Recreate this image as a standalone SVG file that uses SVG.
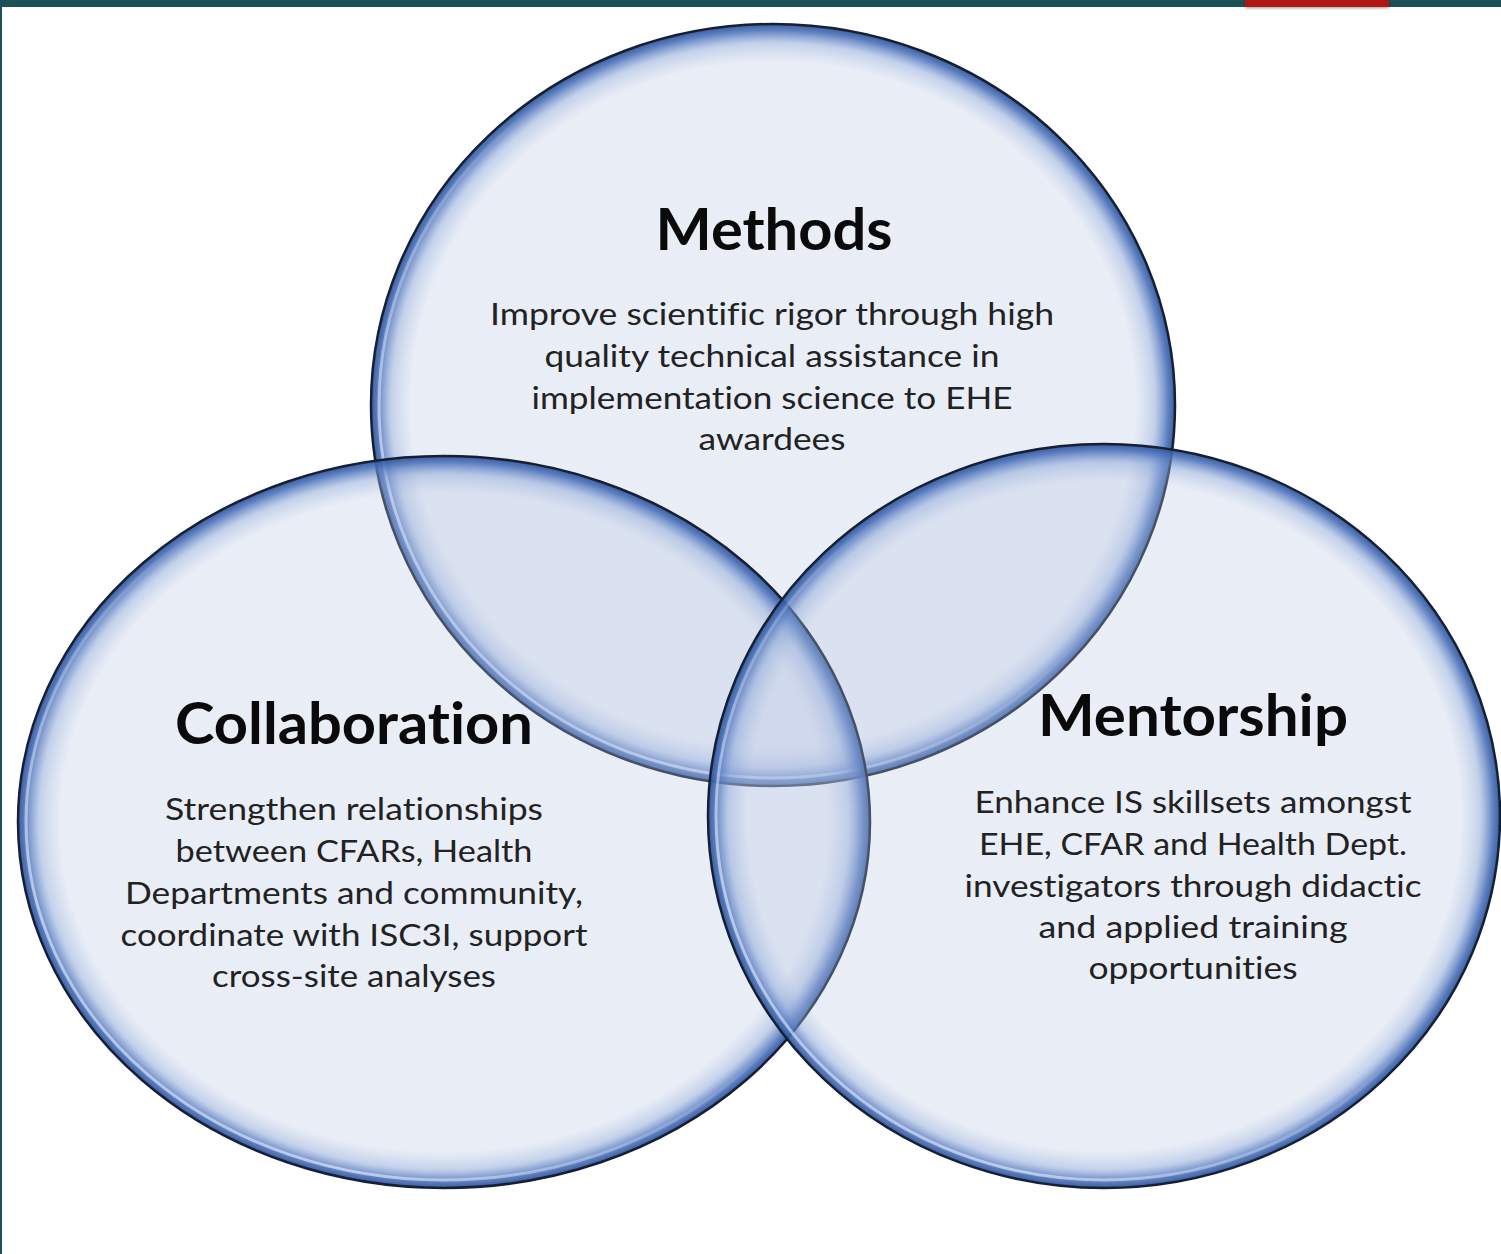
<svg xmlns="http://www.w3.org/2000/svg" width="1501" height="1254" viewBox="0 0 1501 1254">
  <defs>
    <radialGradient id="bubble" cx="50%" cy="50%" r="50%">
      <stop offset="0" stop-color="#b6c4e2" stop-opacity="0.3"/>
      <stop offset="0.9" stop-color="#b6c4e2" stop-opacity="0.3"/>
      <stop offset="0.95" stop-color="#86a2d6" stop-opacity="0.5"/>
      <stop offset="0.983" stop-color="#4a70ba" stop-opacity="0.88"/>
      <stop offset="1" stop-color="#2f5597" stop-opacity="0.95"/>
    </radialGradient>
    <linearGradient id="shine" x1="1" y1="0" x2="0" y2="1">
      <stop offset="0" stop-color="#ffffff" stop-opacity="0"/>
      <stop offset="0.45" stop-color="#ffffff" stop-opacity="0"/>
      <stop offset="0.8" stop-color="#eef4ff" stop-opacity="0.6"/>
      <stop offset="1" stop-color="#eef4ff" stop-opacity="0.45"/>
    </linearGradient>
    <filter id="sh" x="-10%" y="-50%" width="120%" height="250%">
      <feDropShadow dx="0" dy="1" stdDeviation="1.5" flood-color="#000" flood-opacity="0.4"/>
    </filter>
  </defs>
  <style>
    .bub { fill: url(#bubble); stroke: #161f33; stroke-width: 2.5; }
    .shine { fill: none; stroke: url(#shine); stroke-width: 3; }
    .title { font-family: "Lato", "Open Sans", "Liberation Sans", sans-serif; font-weight: 700; font-size: 58px; fill: #0a0a0a; text-anchor: middle; font-variant-ligatures: none; font-feature-settings: "liga" 0; }
    .body { font-family: "Lato", "Open Sans", "Liberation Sans", sans-serif; font-weight: 400; font-size: 30px; fill: #222222; text-anchor: middle; font-variant-ligatures: none; font-feature-settings: "liga" 0; }
  </style>

  <rect x="0" y="0" width="1501" height="1254" fill="#ffffff"/>
  <rect x="0" y="0" width="1501" height="7" fill="#1e5058"/>
  <rect x="0" y="0" width="2" height="1254" fill="#1e5058"/>
  <rect x="1245" y="0" width="144" height="7" fill="#b11616" filter="url(#sh)"/>

  <g id="methods">
    <ellipse class="bub" cx="773" cy="405" rx="402" ry="381"/>
    <ellipse class="shine" cx="773" cy="405" rx="394" ry="373"/>
  </g>
  <g id="collaboration">
    <ellipse class="bub" cx="444" cy="822" rx="426" ry="366"/>
    <ellipse class="shine" cx="444" cy="822" rx="418" ry="358"/>
  </g>
  <g id="mentorship">
    <ellipse class="bub" cx="1104" cy="816" rx="396" ry="372"/>
    <ellipse class="shine" cx="1104" cy="816" rx="388" ry="364"/>
  </g>

  <g id="methods-text">
    <text class="title" x="774" y="250" textLength="237" lengthAdjust="spacingAndGlyphs">Methods</text>
    <text class="body" x="772" y="325" textLength="564" lengthAdjust="spacingAndGlyphs">Improve scientific rigor through high</text>
    <text class="body" x="772" y="367" textLength="455" lengthAdjust="spacingAndGlyphs">quality technical assistance in</text>
    <text class="body" x="772" y="409" textLength="481" lengthAdjust="spacingAndGlyphs">implementation science to EHE</text>
    <text class="body" x="772" y="450" textLength="147" lengthAdjust="spacingAndGlyphs">awardees</text>
  </g>
  <g id="collaboration-text">
    <text class="title" x="354" y="744" textLength="358" lengthAdjust="spacingAndGlyphs">Collaboration</text>
    <text class="body" x="354" y="820" textLength="378" lengthAdjust="spacingAndGlyphs">Strengthen relationships</text>
    <text class="body" x="354" y="862" textLength="357" lengthAdjust="spacingAndGlyphs">between CFARs, Health</text>
    <text class="body" x="354" y="904" textLength="458" lengthAdjust="spacingAndGlyphs">Departments and community,</text>
    <text class="body" x="354" y="946" textLength="467" lengthAdjust="spacingAndGlyphs">coordinate with ISC3I, support</text>
    <text class="body" x="354" y="987" textLength="284" lengthAdjust="spacingAndGlyphs">cross-site analyses</text>
  </g>
  <g id="mentorship-text">
    <text class="title" x="1193" y="736" textLength="310" lengthAdjust="spacingAndGlyphs">Mentorship</text>
    <text class="body" x="1193" y="813" textLength="437" lengthAdjust="spacingAndGlyphs">Enhance IS skillsets amongst</text>
    <text class="body" x="1193" y="855" textLength="428" lengthAdjust="spacingAndGlyphs">EHE, CFAR and Health Dept.</text>
    <text class="body" x="1193" y="897" textLength="457" lengthAdjust="spacingAndGlyphs">investigators through didactic</text>
    <text class="body" x="1193" y="938" textLength="309" lengthAdjust="spacingAndGlyphs">and applied training</text>
    <text class="body" x="1193" y="979" textLength="209" lengthAdjust="spacingAndGlyphs">opportunities</text>
  </g>
  <g id="connectors"/>
</svg>
